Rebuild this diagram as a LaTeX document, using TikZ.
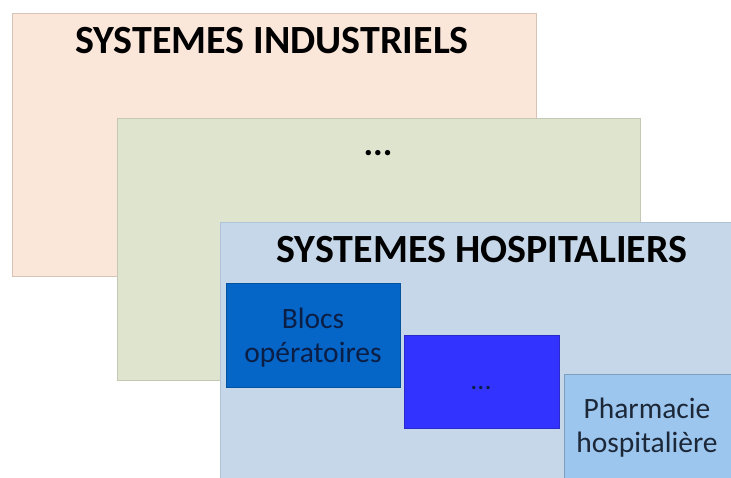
\documentclass[tikz,border=0pt]{standalone}
\usepackage{fontspec}
\setmainfont{Carlito}
\definecolor{peach}{HTML}{FBE6DA}
\definecolor{peachline}{HTML}{D8C3B6}
\definecolor{sage}{HTML}{DFE4CE}
\definecolor{sageline}{HTML}{C3C9B4}
\definecolor{hospbg}{HTML}{C5D7E8}
\definecolor{hospline}{HTML}{AFC3D6}
\definecolor{blocs}{HTML}{0566C8}
\definecolor{dotsbox}{HTML}{3333FF}
\definecolor{pharma}{HTML}{9DC6EE}
\definecolor{navytxt}{HTML}{0B1E45}
\definecolor{darktxt}{HTML}{1C2738}
\begin{document}
\begin{tikzpicture}[x=1pt,y=-1pt,
  panel/.style={line width=0.8pt},
  title/.style={font=\fontsize{40}{44}\selectfont\bfseries, text=black, inner sep=0pt},
  subbox/.style={line width=0.6pt},
  lbl/.style={font=\fontsize{29.5}{34}\selectfont, align=center, inner sep=0pt}
]
\useasboundingbox (0,0) rectangle (731,478);
\fill[white] (0,0) rectangle (731,478);
% panels
\filldraw[panel, fill=peach, draw=peachline] (12,13) rectangle (536,276);
\filldraw[panel, fill=sage, draw=sageline] (117,118) rectangle (640,380);
\filldraw[panel, fill=hospbg, draw=hospline] (220,222) rectangle (735,482);
% titles
\node[title] (ind) at (272,41) {SYSTEMES INDUSTRIELS};
\node[font=\fontsize{36}{38}\selectfont\bfseries, inner sep=0pt] (mid) at (378,153) {...};
\node[title] (hosp) at (482,250) {SYSTEMES HOSPITALIERS};
% sub boxes
\filldraw[subbox, fill=blocs, draw=blocs!80!black] (226,283) rectangle (400,387);
\node[lbl, text=navytxt] (bl) at (313,338) {Blocs\\opératoires};
\filldraw[subbox, fill=dotsbox, draw=dotsbox!80!black] (404,335) rectangle (559,428);
\node[font=\fontsize{28}{30}\selectfont, text=navytxt, inner sep=0pt] (dd) at (481,388) {...};
\filldraw[subbox, fill=pharma, draw=pharma!80!black] (564,374) rectangle (735,482);
\node[lbl, text=darktxt] (ph) at (647,428) {Pharmacie\\hospitalière};
\end{tikzpicture}
\end{document}
